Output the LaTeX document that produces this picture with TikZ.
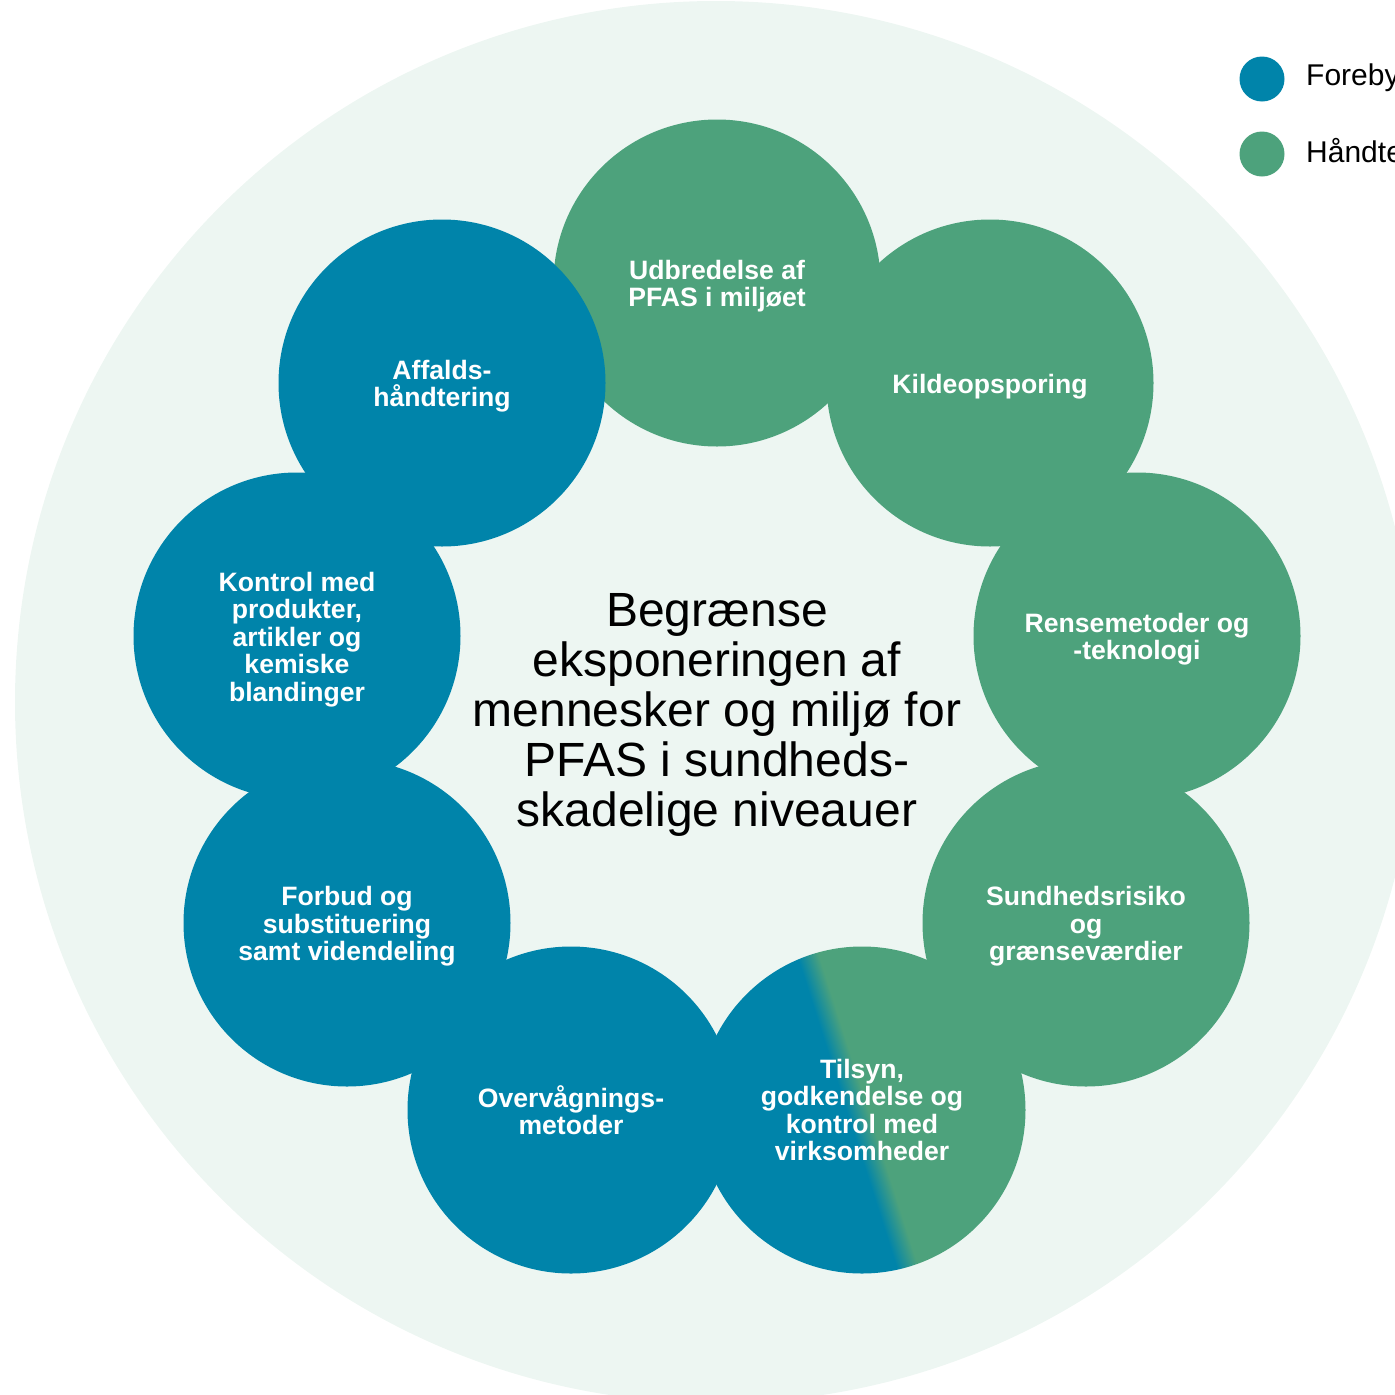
\documentclass[tikz,border=0pt]{standalone}
\usepackage{fontspec}
\setmainfont{Liberation Sans}
\definecolor{pfblue}{RGB}{0,132,170}
\definecolor{pfgreen}{RGB}{77,162,124}
\definecolor{pfbg}{RGB}{237,246,242}
\pgfdeclarehorizontalshading{bluegreen}{100bp}{color(0bp)=(pfblue); color(47.7bp)=(pfblue); color(50.9bp)=(pfgreen); color(100bp)=(pfgreen)}
\newcommand{\lowerfix}{\rule{0pt}{25.8pt}}
\begin{document}
\begin{tikzpicture}[x=1pt,y=-1pt,
  bubble/.style={circle, inner sep=0pt, minimum size=327pt, text=white, align=center,
    font=\bfseries\fontsize{26.6}{27.5}\selectfont},
  blueb/.style={bubble, fill=pfblue},
  greenb/.style={bubble, fill=pfgreen},
  mixb/.style={bubble, shading=bluegreen, shading angle=17.7},
  legdot/.style={circle, inner sep=0pt, minimum size=45pt},
  legtext/.style={anchor=base west, inner sep=0pt, font=\fontsize{30}{32}\selectfont}]
\clip (0,0) rectangle (1395,1395);
\fill[pfbg] (716,702) circle[radius=701];
% bubbles
\node[mixb] (tilsyn) at (862,1110) {Tilsyn,\\godkendelse og\\kontrol med\\virksomheder};
\node[greenb] (udbredelse) at (717,283) {\lowerfix Udbredelse af\\PFAS i miljøet};
\node[greenb] (kilde) at (990,383) {\lowerfix Kildeopsporing};
\node[greenb] (rense) at (1137,636) {\lowerfix Rensemetoder og\\-teknologi};
\node[greenb] (sundhed) at (1086,923) {\lowerfix Sundhedsrisiko\\og\\grænseværdier};
\node[blueb] (overvaag) at (571,1110) {Overvågnings-\\metoder};
\node[blueb] (forbud) at (347,923) {\lowerfix Forbud og\\substituering\\samt videndeling};
\node[blueb] (kontrol) at (297,636) {\lowerfix Kontrol med\\produkter,\\artikler og\\kemiske\\blandinger};
\node[blueb] (affald) at (442,383) {\lowerfix Affalds-\\håndtering};
% centre goal
\node[align=center, inner sep=0pt, font=\fontsize{48}{50}\selectfont] (goal) at (717,715)
  {Begrænse\\eksponeringen af\\mennesker og miljø for\\PFAS i sundheds-\\skadelige niveauer};
% legend
\node[legdot, fill=pfblue] (legblue) at (1262,79) {};
\node[legdot, fill=pfgreen] (leggreen) at (1262,154) {};
\node[legtext] (legbluetxt) at (1306,85) {Forebyggelse};
\node[legtext] (leggreentxt) at (1306,162) {Håndtering};
\end{tikzpicture}
\end{document}
